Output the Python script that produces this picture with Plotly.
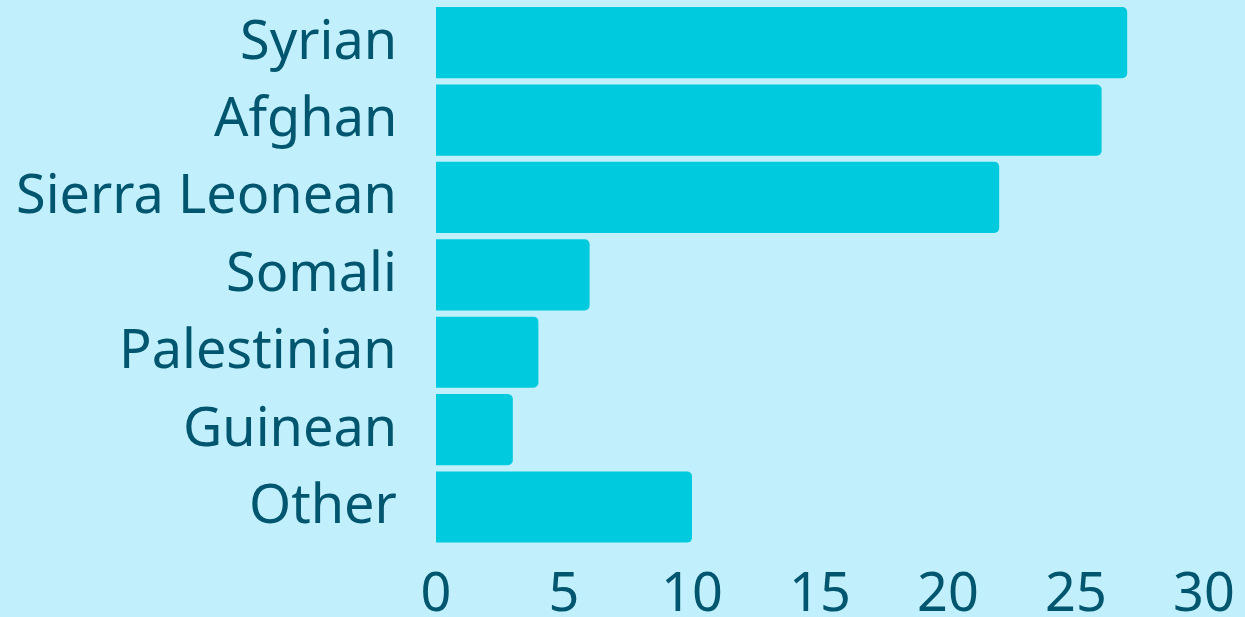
import plotly.graph_objects as go

categories = ["Syrian", "Afghan", "Sierra Leonean", "Somali", "Palestinian", "Guinean", "Other"]
values = [27, 26, 22, 6, 4, 3, 10]
x_ticks = [0, 5, 10, 15, 20, 25, 30]

BG = "#c1f0fc"
BAR = "#00cadd"
TXT = "#00566e"

fig = go.Figure(go.Bar(
    x=values, y=categories, orientation="h",
    marker=dict(color=BAR, line=dict(width=0)),
    hoverinfo="skip",
))
fig.update_layout(
    width=1245, height=617,
    paper_bgcolor=BG, plot_bgcolor=BG,
    margin=dict(l=436, r=41, t=4, b=66, autoexpand=False),
    bargap=0.08,
    barcornerradius=5,
    showlegend=False,
    font=dict(family="Noto Sans", color=TXT, size=54),
)
for cat in categories:
    fig.add_annotation(x=0, y=cat, xref="x", yref="y", text=cat, showarrow=False,
                       xanchor="right", yanchor="middle", xshift=-37, yshift=5,
                       font=dict(size=54, family="Noto Sans", color=TXT))
fig.update_xaxes(range=[0, 30], tickvals=x_ticks, showgrid=False, zeroline=False,
                 showline=False, ticks="", tickfont=dict(size=54, family="Noto Sans", color=TXT),
                 ticklabelstandoff=5, automargin=False)
fig.update_yaxes(autorange="reversed", showgrid=False, zeroline=False, showline=False,
                 ticks="", showticklabels=False, automargin=False)
fig.write_html("out.html", config={"displayModeBar": False},
               post_script="document.body.style.margin='0';document.body.style.background='" + BG + "';")
